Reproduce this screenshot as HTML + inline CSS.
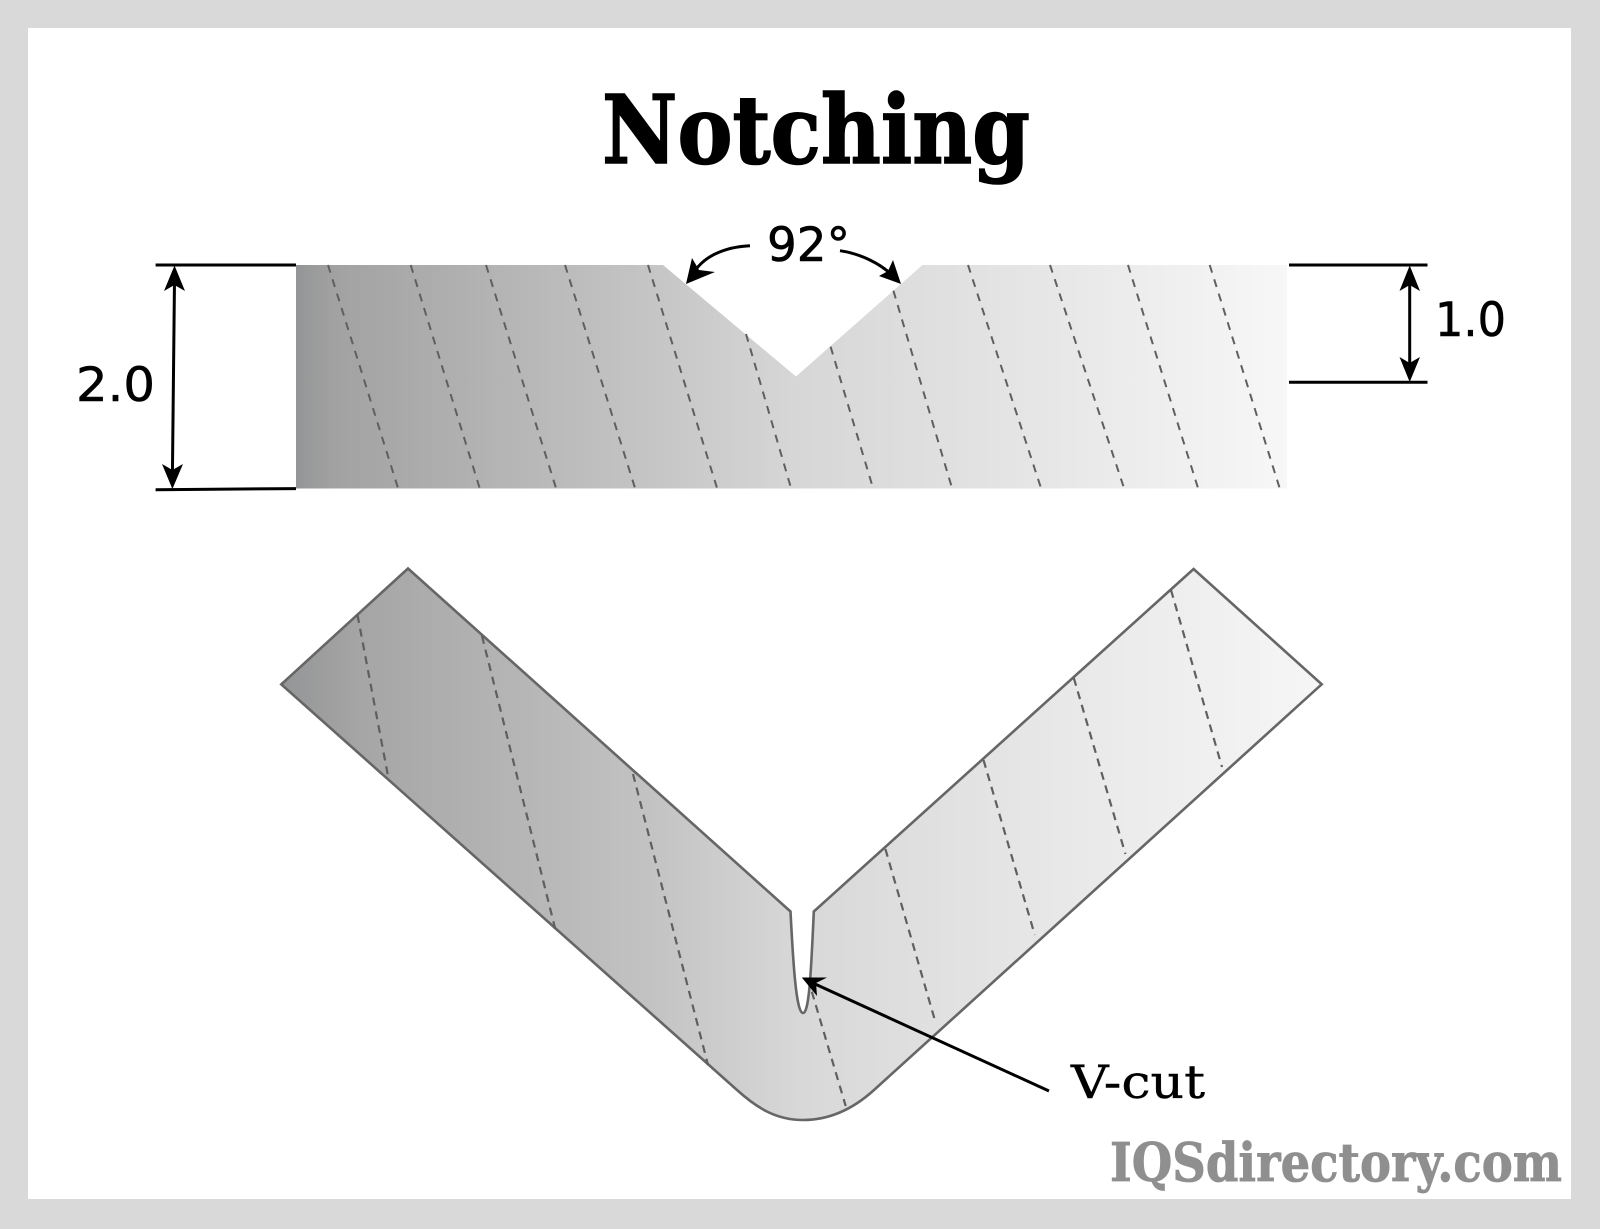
<!DOCTYPE html>
<html><head><meta charset="utf-8"><style>html,body{margin:0;padding:0;background:#d9d9d9}svg{display:block}</style></head>
<body>
<svg xmlns="http://www.w3.org/2000/svg" width="1600" height="1229" viewBox="0 0 1600 1229">
<defs>
<linearGradient id="g1" gradientUnits="userSpaceOnUse" x1="296" y1="0" x2="1287" y2="0">
<stop offset="0" stop-color="#949596"/><stop offset=".04" stop-color="#a2a2a2"/><stop offset=".35" stop-color="#c4c4c4"/><stop offset=".5" stop-color="#d6d6d6"/><stop offset=".75" stop-color="#e6e6e6"/><stop offset="1" stop-color="#f7f7f7"/>
</linearGradient>
<linearGradient id="g2" gradientUnits="userSpaceOnUse" x1="281" y1="0" x2="1322" y2="0">
<stop offset="0" stop-color="#949596"/><stop offset=".08" stop-color="#a6a6a6"/><stop offset=".35" stop-color="#c2c2c2"/><stop offset=".5" stop-color="#d8d8d8"/><stop offset=".75" stop-color="#e8e8e8"/><stop offset="1" stop-color="#f6f6f6"/>
</linearGradient>
</defs>
<rect width="1600" height="1229" fill="#d9d9d9"/>
<rect x="28" y="28" width="1543" height="1171" fill="#fff"/>

<text x="602" y="163" font-family="'DejaVu Serif',serif" font-weight="700" font-size="95" textLength="428" lengthAdjust="spacingAndGlyphs" fill="#000" stroke="#000" stroke-width="1.6">Notching</text>

<polygon points="296,265 663,265 796,376.5 922.5,265 1287,265 1287,488.5 296,488.5" fill="url(#g1)"/>
<g stroke="#5f5f5f" stroke-width="2" stroke-dasharray="8 7" fill="none">
<path d="M328,265L398,488"/><path d="M410.7,265L479.6,488"/><path d="M486,265L556,488"/><path d="M565,265L635,488"/><path d="M648,265L717,488"/><path d="M746,334L791,488"/>
<path d="M830.6,346.7L873,488"/><path d="M893.4,290.7L952,488"/><path d="M968,265L1041,488"/><path d="M1050,265L1124,488"/><path d="M1128,265L1198,488"/><path d="M1209.7,265L1279.6,488"/>
</g>

<g stroke="#000" stroke-width="3" fill="none">
<path d="M155.6,265H296"/><path d="M155.6,489.7L296,488.6"/>
<path d="M174.5,280L172.4,475"/>
<path d="M1289,265H1427.5"/><path d="M1289,382.3H1427.5"/>
<path d="M1409.7,280V370"/>
<path d="M750,245.7C722,247 702,258 693,274"/>
<path d="M840,250.7C862,254 880,264 891,274"/>
</g>
<g fill="#000">
<polygon points="174.5,265.5 185,291 174.4,285 164,291"/>
<polygon points="172.4,489 162,464 172.4,470 183,464"/>
<polygon points="1409.7,265.5 1420,291 1409.7,285 1399.5,291"/>
<polygon points="1409.7,382 1399.5,357 1409.7,363 1420,357"/>
<polygon points="686,284 692,258 699,270 715,272"/>
<polygon points="901,284 879,276 888,271 893,260"/>
</g>

<g font-family="'DejaVu Sans',sans-serif" font-size="47" fill="#000" stroke="#000" stroke-width=".6">
<text x="76" y="401" textLength="79" lengthAdjust="spacingAndGlyphs">2.0</text>
<text x="1435" y="336" textLength="71" lengthAdjust="spacingAndGlyphs">1.0</text>
<text x="767" y="261" textLength="83" lengthAdjust="spacingAndGlyphs">92°</text>
</g>

<path d="M408,568.5L790.5,911.5C793,960 796,1013 803,1013C809,1013 811,975 813.8,911.5L1193.6,569L1321.7,684.3L874,1090C852,1110 828,1120 803,1120C776,1120 757,1108 737,1090L281.3,684.3Z" fill="url(#g2)" stroke="#666" stroke-width="2.6" stroke-linejoin="miter"/>
<g stroke="#5f5f5f" stroke-width="2.2" stroke-dasharray="8 6" fill="none">
<path d="M357.5,615L388.4,778"/><path d="M482,636L555.5,930"/><path d="M633,774L708,1065"/>
<path d="M1171,590L1222,767"/><path d="M1073.8,678L1125.4,854"/><path d="M983.5,760L1034.8,935"/><path d="M885.4,849L935.7,1023"/><path d="M811.8,991.7L845.7,1106"/>
</g>
<path d="M1049,1091L815,984" stroke="#000" stroke-width="3" fill="none"/>
<polygon points="801.8,977.5 827,977.5 816,983 817,996" fill="#000"/>

<text x="1071" y="1098" font-family="'DejaVu Serif',serif" font-size="46" textLength="134" lengthAdjust="spacingAndGlyphs" fill="#000" stroke="#000" stroke-width=".4">V-cut</text>
<text x="1110" y="1181" font-family="'DejaVu Serif',serif" font-weight="700" font-size="53" textLength="452" lengthAdjust="spacingAndGlyphs" fill="#8f8f8f" stroke="#8f8f8f" stroke-width=".8">IQSdirectory.com</text>
</svg>
</body></html>
